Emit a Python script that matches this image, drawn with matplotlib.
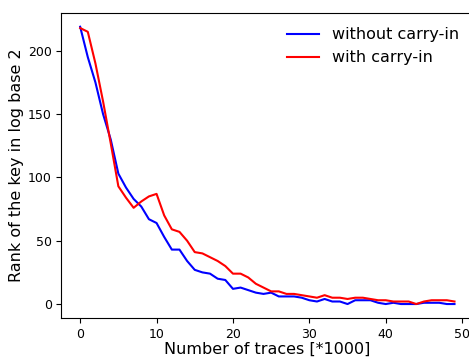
import matplotlib
matplotlib.use('Agg')
import matplotlib.pyplot as plt
import numpy as np

# key rank (log2) after each batch of 1000 traces
traces = np.arange(50)
rank_without = [219, 195, 175, 150, 130, 103, 92, 83, 77, 67,
                64, 53, 43, 43, 34, 27, 25, 24, 20, 19,
                12, 13, 11, 9, 8, 9, 6, 6, 6, 5,
                3, 2, 4, 2, 2, 0, 3, 3, 3, 1,
                0, 1, 0, 0, 0, 1, 1, 1, 0, 0]
rank_with = [218, 215, 190, 160, 127, 93, 84, 76, 81, 85,
             87, 70, 59, 57, 50, 41, 40, 37, 34, 30,
             24, 24, 21, 16, 13, 10, 10, 8, 8, 7,
             6, 5, 7, 5, 5, 4, 5, 5, 4, 3,
             3, 2, 2, 2, 0, 2, 3, 3, 3, 2]

fig = plt.figure(figsize=(4.69, 3.58), dpi=100)
ax = fig.add_axes([0.131, 0.112, 0.878, 0.852])

ax.plot(traces, rank_without, color='blue', label='without carry-in')
ax.plot(traces, rank_with, color='red', label='with carry-in')

ax.set_xticks([0, 10, 20, 30, 40, 50])
ax.set_yticks([0, 50, 100, 150, 200])
ax.tick_params(labelsize=9)
ax.set_xlabel('Number of traces [*1000]', fontsize=11.5, labelpad=1)
ax.set_ylabel('Rank of the key in log base 2', fontsize=11.5, labelpad=3)
ax.legend(loc='upper right', frameon=False, fontsize=11.5)

plt.savefig('out.png', dpi=100)
